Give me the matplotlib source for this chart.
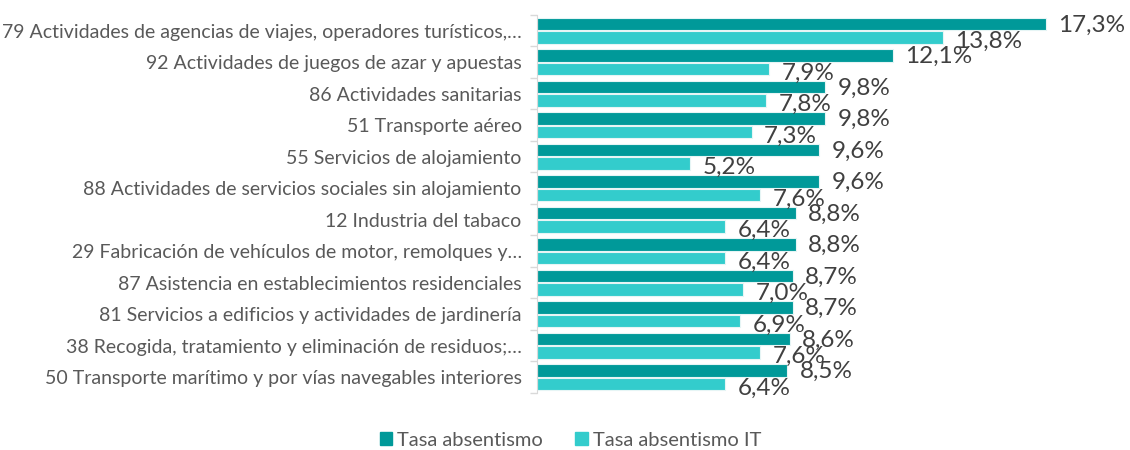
import numpy as np
import matplotlib.pyplot as plt
from matplotlib.patches import Patch

categorias = [
    "79 Actividades de agencias de viajes, operadores turísticos,…",
    "92 Actividades de juegos de azar y apuestas",
    "86 Actividades sanitarias",
    "51 Transporte aéreo",
    "55 Servicios de alojamiento",
    "88 Actividades de servicios sociales sin alojamiento",
    "12 Industria del tabaco",
    "29 Fabricación de vehículos de motor, remolques y…",
    "87 Asistencia en establecimientos residenciales",
    "81 Servicios a edificios y actividades de jardinería",
    "38 Recogida, tratamiento y eliminación de residuos;…",
    "50 Transporte marítimo y por vías navegables interiores",
]
tasa_abs = [17.3, 12.1, 9.8, 9.8, 9.6, 9.6, 8.8, 8.8, 8.7, 8.7, 8.6, 8.5]
tasa_it = [13.8, 7.9, 7.8, 7.3, 5.2, 7.6, 6.4, 6.4, 7.0, 6.9, 7.6, 6.4]

c_abs = '#009999'
c_it = '#33cccc'
gris = '#595959'

plt.rcParams['font.family'] = ['Lato', 'DejaVu Sans']

fig = plt.figure(figsize=(11.3, 4.5), dpi=100)
ax = fig.add_axes([0.4752, 0.1267, 0.5204, 0.84])

y = np.arange(len(categorias))
h = 0.4
d = 0.22
ax.barh(y - d, tasa_abs, height=h, color=c_abs, edgecolor='#e6f5f5', linewidth=0.8)
ax.barh(y + d, tasa_it, height=h, color=c_it, edgecolor='#e6f5f5', linewidth=0.8)

def fmt(v):
    return f"{v:.1f}%".replace('.', ',')

for yi, v in zip(y - d, tasa_abs):
    ax.annotate(fmt(v), (v, yi), xytext=(9, -1), textcoords='offset points',
                va='center', ha='left', fontsize=17.5, color='#404040')
for yi, v in zip(y + d, tasa_it):
    ax.annotate(fmt(v), (v, yi), xytext=(9, -3), textcoords='offset points',
                va='center', ha='left', fontsize=17.5, color='#404040')

ax.set_xlim(0, 20)
ax.set_ylim(len(categorias) - 0.5, -0.5)
ax.set_yticks(y)
ax.set_yticklabels(categorias, fontsize=14, color=gris)
ax.tick_params(axis='y', which='major', length=0, pad=11)
ax.set_yticks(np.arange(-0.5, len(categorias)), minor=True)
ax.tick_params(axis='y', which='minor', length=5, color='#d9d9d9', width=1)
ax.set_xticks([])
for s in ['top', 'right', 'bottom']:
    ax.spines[s].set_visible(False)
ax.spines['left'].set_color('#d9d9d9')

handles = [Patch(color=c_abs, label='Tasa absentismo'),
           Patch(color=c_it, label='Tasa absentismo IT')]
fig.legend(handles=handles, loc='center', bbox_to_anchor=(0.505, 0.022), ncol=2,
           frameon=False, fontsize=14.5, handlelength=0.6, handleheight=0.6,
           handletextpad=0.25, columnspacing=1.6, labelcolor=gris)

fig.savefig('out.png', dpi=100)
